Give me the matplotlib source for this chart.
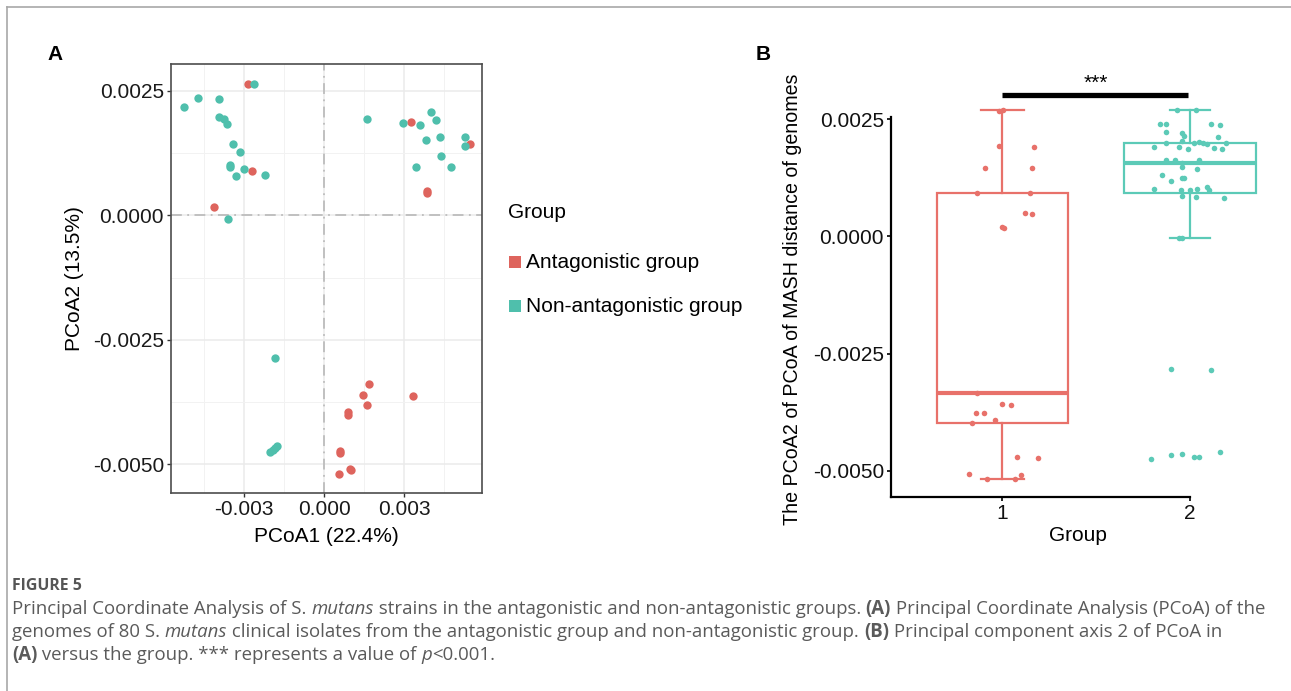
import numpy as np
import matplotlib
matplotlib.use("Agg")
import matplotlib.pyplot as plt
from matplotlib.lines import Line2D
from matplotlib.patches import Rectangle
from matplotlib.ticker import MultipleLocator

# ---- data: panel A (PCoA scores) ----
anta_x = [-0.00285, -0.00270, -0.00414, 0.00326, 0.00548, 0.00387, 0.00387,
          0.00168, 0.00148, 0.00335, 0.00163, 0.00089, 0.00089, 0.00061,
          0.00061, 0.00098, 0.00100, 0.00058]
anta_y = [0.00264, 0.00088, 0.00016, 0.00188, 0.00143, 0.00049, 0.00045,
          -0.00339, -0.00361, -0.00364, -0.00381, -0.00395, -0.00402, -0.00473,
          -0.00477, -0.00509, -0.00511, -0.00520]
non_x = [-0.00525, -0.00471, -0.00395, -0.00264, -0.00393, -0.00375, -0.00364,
         -0.00341, -0.00316, -0.00354, -0.00354, -0.00300, -0.00330, -0.00220,
         -0.00360, 0.00160, 0.00295, 0.00360, 0.00400, 0.00420, 0.00381,
         0.00434, 0.00530, 0.00530, 0.00438, 0.00345, 0.00476,
         -0.00183, -0.00203, -0.00190, -0.00178, -0.00183]
non_y = [0.00217, 0.00235, 0.00233, 0.00264, 0.00197, 0.00194, 0.00183,
         0.00144, 0.00127, 0.00101, 0.00097, 0.00093, 0.00078, 0.00081,
         -0.00008, 0.00194, 0.00186, 0.00181, 0.00208, 0.00192, 0.00151,
         0.00157, 0.00158, 0.00140, 0.00120, 0.00098, 0.00097,
         -0.00287, -0.00476, -0.00471, -0.00464, -0.00467]

# ---- data: panel B (PCoA2 by group, jittered x) ----
g1_x = [0.985, 1.002, 0.98, 1.17, 0.91, 1.16, 0.867, 1.15, 1.12, 1.16, 1.0, 1.01,
        0.867, 1.0, 1.045, 0.86, 0.9, 0.96, 0.84, 1.08, 1.19, 0.82, 1.10, 0.92, 1.07]
g1_y = [0.00268, 0.00269, 0.00194, 0.00191, 0.00147, 0.00147, 0.00092, 0.00092,
        0.00051, 0.00048, 0.00020, 0.00019, -0.00335, -0.00358, -0.00359, -0.00378,
        -0.00378, -0.00393, -0.00399, -0.00470, -0.00474, -0.00507, -0.00509,
        -0.00518, -0.00518]
g2_x = [1.93, 2.03, 1.84, 1.87, 2.11, 2.16, 1.87, 1.96, 1.97, 2.15,
        1.81, 1.87, 1.94, 1.96, 1.99, 2.05, 2.09, 2.13, 2.17, 2.19, 2.07, 2.02,
        1.87, 1.92, 2.05, 1.96, 2.04, 1.96, 1.85, 1.96, 1.97, 1.90,
        1.81, 1.95, 2.00, 2.04, 2.09, 2.10, 1.96, 2.03, 2.18, 1.94, 1.96,
        1.90, 2.11, 1.79, 1.90, 1.96, 2.02, 2.05, 2.16]
g2_y = [0.00269, 0.00269, 0.00240, 0.00240, 0.00241, 0.00238, 0.00223, 0.00221,
        0.00214, 0.00212, 0.00190, 0.00200, 0.00190, 0.00203, 0.00186, 0.00201,
        0.00197, 0.00189, 0.00186, 0.00199, 0.00199, 0.00199,
        0.00163, 0.00163, 0.00163, 0.00149, 0.00145, 0.00156, 0.00131, 0.00124,
        0.00124, 0.00118, 0.00102, 0.00099, 0.00099, 0.00102, 0.00105, 0.00100,
        0.00086, 0.00084, 0.00082, -0.00004, -0.00004, -0.00283, -0.00285,
        -0.00475, -0.00467, -0.00465, -0.00472, -0.00472, -0.00460]

legend_labels = ["Antagonistic group", "Non-antagonistic group"]

RED = "#DE645D"
TEAL = "#4FBFAC"
RED_B = "#E8716A"
TEAL_B = "#5CCAB7"

plt.rcParams["font.family"] = ["Liberation Sans", "DejaVu Sans"]

W, H = 1291, 691
fig = plt.figure(figsize=(W / 100, H / 100), dpi=100)


def fx(px):
    return px / W


def fy(py):
    return 1 - py / H


# page frame (top and left rule)
fig.add_artist(Line2D([fx(7), 1], [fy(7), fy(7)], color="#A8A8A8", lw=1.2))
fig.add_artist(Line2D([fx(7), fx(7)], [fy(7), 0], color="#A8A8A8", lw=1.2))

FS = 15

# ---------------- panel A ----------------
axA = fig.add_axes([fx(171), fy(493), fx(482) - fx(171), fy(64) - fy(493)])
axA.set_xlim(-0.005738, 0.005925)
axA.set_ylim(-0.00558, 0.00304)
axA.xaxis.set_major_locator(MultipleLocator(0.003))
axA.xaxis.set_minor_locator(MultipleLocator(0.0015))
axA.yaxis.set_major_locator(MultipleLocator(0.0025))
axA.yaxis.set_minor_locator(MultipleLocator(0.00125))
axA.grid(True, which="major", color="#EBEBEB", lw=1.1)
axA.grid(True, which="minor", color="#F2F2F2", lw=0.7)
axA.set_axisbelow(True)
axA.axvline(0, color="#BDBDBD", lw=1.3, ls=(0, (6, 3, 1, 3)), zorder=1)
axA.axhline(0, color="#BDBDBD", lw=1.3, ls=(0, (6, 3, 1, 3)), zorder=1)
axA.scatter(anta_x, anta_y, s=36, color=RED, lw=0, zorder=3)
axA.scatter(non_x, non_y, s=36, color=TEAL, lw=0, zorder=4)
axA.set_xticks([-0.003, 0.0, 0.003])
axA.set_xticklabels(["-0.003", "0.000", "0.003"])
axA.set_yticks([-0.005, -0.0025, 0.0, 0.0025])
axA.set_yticklabels(["-0.0050", "-0.0025", "0.0000", "0.0025"])
axA.tick_params(which="major", length=3, width=1, color="#333333",
                labelsize=FS, labelcolor="#1A1A1A", pad=2)
axA.tick_params(which="minor", length=0)
for sp in axA.spines.values():
    sp.set_color("#4D4D4D")
    sp.set_linewidth(1.2)
axA.set_xlabel("PCoA1 (22.4%)", fontsize=FS, labelpad=6)
axA.set_ylabel("PCoA2 (13.5%)", fontsize=FS, labelpad=6)

fig.text(fx(47), fy(55), "A", fontsize=15, fontweight="bold", va="center")

# legend
fig.text(fx(508), fy(213), "Group", fontsize=FS, va="center", ha="left")
for lab, col, py in zip(legend_labels, [RED, TEAL], [262, 306]):
    fig.add_artist(Rectangle((fx(509), fy(py + 6)), fx(12), fy(0) - fy(12),
                             transform=fig.transFigure, color=col, lw=0))
    fig.text(fx(526), fy(py), lab, fontsize=FS, va="center", ha="left")

# ---------------- panel B ----------------
axB = fig.add_axes([fx(891), fy(497), fx(1265) - fx(891), fy(80) - fy(497)])
axB.set_xlim(0.407, 2.40)
axB.set_ylim(-0.005564, 0.00334)

bp = axB.boxplot([g1_y, g2_y], positions=[1, 2], widths=0.7, whis=1.5,
                 showfliers=False, patch_artist=True, capwidths=[0.23, 0.21])
for i, col in enumerate([RED_B, TEAL_B]):
    bp["boxes"][i].set(facecolor="none", edgecolor=col, lw=1.6)
    bp["medians"][i].set(color=col, lw=3)
    for ln in bp["whiskers"][2 * i:2 * i + 2] + bp["caps"][2 * i:2 * i + 2]:
        ln.set(color=col, lw=1.6)

axB.scatter(g1_x, g1_y, s=16, color=RED_B, lw=0, zorder=3, clip_on=False)
axB.scatter(g2_x, g2_y, s=16, color=TEAL_B, lw=0, zorder=3, clip_on=False)

# significance bar
axB.plot([1, 1.99], [0.00302, 0.00302], color="black", lw=3.8,
         solid_capstyle="butt")
axB.text(1.5, 0.00307, "***", ha="center", va="bottom", fontsize=15)

axB.set_xticks([1, 2])
axB.set_yticks([-0.005, -0.0025, 0.0, 0.0025])
axB.set_yticklabels(["-0.0050", "-0.0025", "0.0000", "0.0025"])
axB.tick_params(length=3, width=1.2, color="black", labelsize=FS,
                labelcolor="#111111", pad=2)
axB.spines["top"].set_visible(False)
axB.spines["right"].set_visible(False)
axB.spines["left"].set_bounds(-0.005564, 0.00255)
axB.spines["bottom"].set_bounds(0.407, 2.0)
for sp in ("left", "bottom"):
    axB.spines[sp].set_linewidth(1.6)
axB.set_xlabel("Group", fontsize=FS, labelpad=2)
axB.set_ylabel("The PCoA2 of PCoA of MASH distance of genomes", fontsize=14.1,
               labelpad=8)
axB.yaxis.label.set_y(0.475)

fig.text(fx(756), fy(55), "B", fontsize=15, fontweight="bold", va="center")

# ---------------- caption ----------------
CAP_FONT = ["Open Sans", "DejaVu Sans"]
CAP_COL = "#5A5A5A"
renderer = fig.canvas.get_renderer()

n, i, b = "normal", "italic", "bold"
cap_lines = [
    (609, [("Principal Coordinate Analysis of S. ", n, n), ("mutans", i, n),
           (" strains in the antagonistic and non-antagonistic groups. ", n, n),
           ("(A)", n, b), (" Principal Coordinate Analysis (PCoA) of the", n, n)]),
    (632, [("genomes of 80 S. ", n, n), ("mutans", i, n),
           (" clinical isolates from the antagonistic group and non-antagonistic group. ", n, n),
           ("(B)", n, b), (" Principal component axis 2 of PCoA in", n, n)]),
    (655, [("(A)", n, b), (" versus the group. *** represents a value of ", n, n),
           ("p", i, n), ("<0.001.", n, n)]),
]


def rich_line(x_px, y_px, pieces, size, draw=True):
    x = fx(x_px)
    for txt, style, weight in pieces:
        t = fig.text(x, fy(y_px), txt, fontsize=size, family=CAP_FONT,
                     style=style, fontweight=weight, color=CAP_COL, va="center")
        x += t.get_window_extent(renderer).width / W
        if not draw:
            t.remove()
    return x * W - x_px


# fit first caption line to the width it spans in the figure (12 -> 1262 px)
probe = rich_line(12, 609, cap_lines[0][1], 12, draw=False)
cap_size = 12 * 1250 / probe

fig.text(fx(12), fy(586), "FIGURE 5", fontsize=cap_size * 0.85, family=CAP_FONT,
         fontweight="bold", color="#555555", va="center")
for y_px, pieces in cap_lines:
    rich_line(12, y_px, pieces, cap_size)

fig.savefig("out.png", dpi=100)
